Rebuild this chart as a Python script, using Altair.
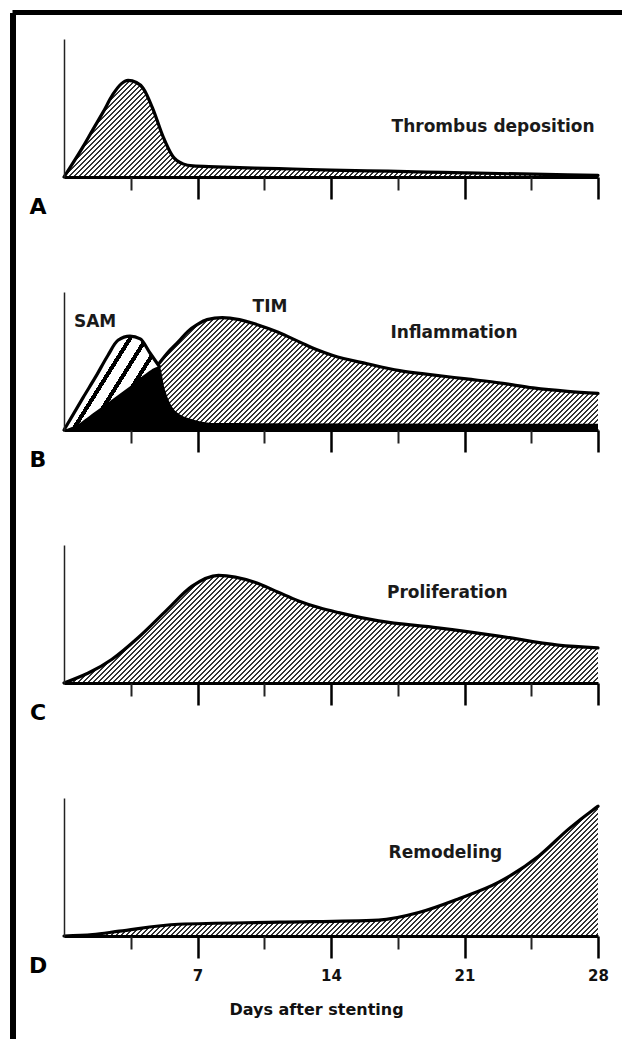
import math
import altair as alt
import pandas as pd

# ---------------- data ----------------
DAY_MAX = 28
major_ticks = [7, 14, 21, 28]
minor_ticks = [3.5, 10.5, 17.5, 24.5]

thrombus_days = [0, 1.0, 1.5, 2.05, 2.57, 3.0, 3.36, 3.8, 4.14, 4.67, 5.2, 5.7, 6.24, 6.76, 8, 10, 12, 14, 17, 19, 21, 24, 28]
thrombus_vals = [0, 0.22, 0.34, 0.47, 0.60, 0.675, 0.70, 0.685, 0.645, 0.49, 0.29, 0.15, 0.095, 0.08, 0.074, 0.065, 0.058, 0.05, 0.042, 0.036, 0.03, 0.022, 0.012]

sam_days = [0, 1.0, 1.68, 2.3, 2.83, 3.46, 4.0, 4.5, 5.0]
sam_vals = [0, 0.235, 0.39, 0.54, 0.65, 0.68, 0.66, 0.56, 0.46]

black_days = [0, 0.7, 1.5, 2.5, 3.5, 4.3, 5.0, 5.3, 5.9, 6.8, 8, 28]
black_vals = [0, 0.04, 0.12, 0.22, 0.32, 0.41, 0.46, 0.29, 0.13, 0.075, 0.05, 0.045]

tim_days = [5.0, 5.5, 6.0, 6.5, 7.0, 7.5, 8.3, 9.2, 10.1, 11.2, 12.4, 13.2, 14.1, 15.9, 17.6, 19.3, 21.1, 22.9, 24.6, 26.4, 28]
tim_vals = [0.485, 0.57, 0.64, 0.715, 0.765, 0.80, 0.815, 0.80, 0.765, 0.71, 0.635, 0.585, 0.54, 0.48, 0.43, 0.40, 0.37, 0.34, 0.305, 0.28, 0.265]

prolif_days = [0, 2.5, 3.9, 5.4, 6.7, 8.1, 10.0, 11.2, 12.3, 13.4, 14.4, 16.5, 19.6, 22.8, 25.9, 28]
prolif_vals = [0, 0.17, 0.33, 0.53, 0.70, 0.78, 0.73, 0.66, 0.595, 0.545, 0.51, 0.45, 0.40, 0.34, 0.275, 0.255]

remod_days = [0, 1.5, 2.9, 6.0, 11.3, 16.5, 18.6, 20.7, 22.8, 24.9, 26.5, 27.7, 28]
remod_vals = [0, 0.01, 0.035, 0.085, 0.10, 0.115, 0.17, 0.27, 0.39, 0.58, 0.78, 0.91, 0.94]

panel_letters = ["A", "B", "C", "D"]
labels_A = (["Thrombus deposition"], [22.5], [0.36])
labels_B = (["SAM", "TIM", "Inflammation"], [1.63, 10.8, 20.45], [0.78, 0.89, 0.70])
labels_C = (["Proliferation"], [20.1], [0.65])
labels_D = (["Remodeling"], [20.0], [0.60])
x_title = "Days after stenting"

# ---------------- layout / style ----------------
W = 534
H = 138
FONT = "DejaVu Sans"

xs = alt.Scale(domain=[0, DAY_MAX], nice=False, zero=False)
ys = alt.Scale(domain=[0, 1], nice=False)

y_axis = alt.Axis(orient="left", domain=True, domainColor="#222222", domainWidth=1.5,
                  ticks=False, labels=False, title=None, grid=False, zindex=1)
x_minor = alt.Axis(orient="bottom", values=minor_ticks, tickSize=13, tickWidth=2,
                   tickColor="#222222", domain=False, labels=False, title=None,
                   grid=False, zindex=1)


def x_major(show_labels):
    if show_labels:
        return alt.Axis(orient="bottom", values=major_ticks, tickSize=22, tickWidth=2.5,
                        tickColor="black", domainWidth=3, domainColor="black",
                        labels=True, labelFont=FONT, labelFontWeight="bold",
                        labelFontSize=15, labelColor="#111111", labelPadding=17,
                        labelBaseline="middle", labelFlush=False, labelAngle=0,
                        title=x_title, titleFont=FONT, titleFontWeight="bold",
                        titleFontSize=16, titleColor="#111111", titleX=252, titleY=73,
                        titleBaseline="middle", titleAlign="center", grid=False, zindex=1)
    return alt.Axis(orient="bottom", values=major_ticks, tickSize=22, tickWidth=2.5,
                    tickColor="black", domainWidth=3, domainColor="black",
                    labels=False, title=None, grid=False, zindex=1)


def stripes(days, vals, period, frac, slope=1.0, dark="#333333", light="#ffffff"):
    """Diagonal stripe fill built from a hard-stop linear gradient (exact pixel period)."""
    w = (max(days) - min(days)) * W / DAY_MAX
    h = max(vals) * H
    aw = slope * w
    n = max(1, int(math.ceil((aw + h) / period)))
    L = n * period
    c = L / (aw ** 2 + h ** 2)
    stops = []
    for i in range(n):
        o0 = round(i / n, 7)
        o1 = round((i + frac) / n, 7)
        o2 = round((i + 1) / n, 7)
        stops += [alt.GradientStop(color=dark, offset=o0),
                  alt.GradientStop(color=dark, offset=o1),
                  alt.GradientStop(color=light, offset=o1),
                  alt.GradientStop(color=light, offset=o2)]
    return alt.LinearGradient(gradient="linear", stops=stops, x1=0, y1=0,
                              x2=round(c * aw, 7), y2=round(c * h, 7))


def curve_df(days, vals):
    return pd.DataFrame({"day": days, "val": vals})


def area(days, vals, fill, major=None, minor=False):
    if major is not None:
        xa = major
    elif minor:
        xa = x_minor
    else:
        xa = None
    return alt.Chart(curve_df(days, vals)).mark_area(
        fill=fill, interpolate="monotone"
    ).encode(
        x=alt.X("day:Q", scale=xs, axis=xa),
        y=alt.Y("val:Q", scale=ys, axis=y_axis),
    )


def outline(days, vals, minor=False):
    return alt.Chart(curve_df(days, vals)).mark_line(
        color="black", strokeWidth=3.2, interpolate="monotone", strokeCap="round",
        strokeJoin="round"
    ).encode(
        x=alt.X("day:Q", scale=xs, axis=x_minor if minor else None),
        y=alt.Y("val:Q", scale=ys, axis=y_axis),
    )


def texts(spec):
    lab, dx, vy = spec
    return alt.Chart(pd.DataFrame({"label": lab, "day": dx, "val": vy})).mark_text(
        font=FONT, fontWeight="bold", fontSize=17, color="#1a1a1a",
        align="center", baseline="middle"
    ).encode(
        x=alt.X("day:Q", scale=xs, axis=None),
        y=alt.Y("val:Q", scale=ys, axis=y_axis),
        text="label:N",
    )


def letter(ch):
    return alt.Chart(pd.DataFrame({"label": [ch]})).mark_text(
        font=FONT, fontWeight="bold", fontSize=22, color="black",
        align="center", baseline="middle"
    ).encode(x=alt.value(-26), y=alt.value(H + 30), text="label:N")


one = pd.DataFrame({"k": [0]})
border_v = alt.Chart(one).mark_rule(color="black", strokeWidth=6).encode(
    x=alt.value(-51), y=alt.value(-26), y2=alt.value(1000))
border_h = alt.Chart(one).mark_rule(color="black", strokeWidth=5).encode(
    x=alt.value(-51.5), x2=alt.value(558), y=alt.value(-26.5))

hatch_A = stripes(thrombus_days, thrombus_vals, 5, 0.42)
hatch_T = stripes(tim_days, tim_vals, 5, 0.42)
hatch_C = stripes(prolif_days, prolif_vals, 5, 0.42)
hatch_D = stripes(remod_days, remod_vals, 5, 0.42)
sam_fill = stripes(sam_days, sam_vals, 26, 0.3, slope=1.6, dark="#000000")

pA = alt.layer(
    area(thrombus_days, thrombus_vals, hatch_A, major=x_major(False)),
    outline(thrombus_days, thrombus_vals, minor=True),
    texts(labels_A), letter(panel_letters[0]), border_v, border_h,
).resolve_axis(x="independent").properties(width=W, height=H)

pB = alt.layer(
    area(tim_days, tim_vals, hatch_T, major=x_major(False)),
    area(sam_days, sam_vals, sam_fill),
    area(black_days, black_vals, "black"),
    outline(tim_days, tim_vals, minor=True),
    outline(sam_days, sam_vals),
    texts(labels_B), letter(panel_letters[1]),
).resolve_axis(x="independent").properties(width=W, height=H)

pC = alt.layer(
    area(prolif_days, prolif_vals, hatch_C, major=x_major(False)),
    outline(prolif_days, prolif_vals, minor=True),
    texts(labels_C), letter(panel_letters[2]),
).resolve_axis(x="independent").properties(width=W, height=H)

pD = alt.layer(
    area(remod_days, remod_vals, hatch_D, major=x_major(True)),
    outline(remod_days, remod_vals, minor=True),
    texts(labels_D), letter(panel_letters[3]),
).resolve_axis(x="independent").properties(width=W, height=H)

chart = alt.vconcat(pA, pB, pC, pD, spacing=115, bounds="flush").properties(
    padding={"left": 10, "top": 10, "right": 0, "bottom": 0},
    background="white",
).configure_view(stroke=None)

chart.save("out.html", embed_options={"renderer": "svg", "actions": False})
